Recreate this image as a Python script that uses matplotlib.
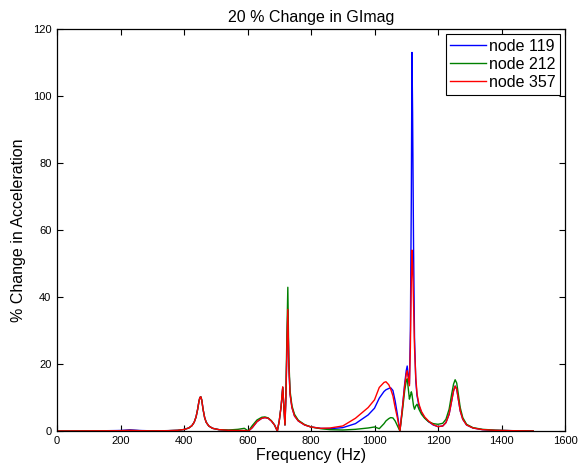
import matplotlib
matplotlib.use('Agg')
import matplotlib.pyplot as plt

# frequency grid (Hz) shared by the three nodes
freq = [0, 50, 100, 150, 200, 215, 230, 245, 260, 300,
        350, 380, 400, 415, 425, 432, 438, 443, 447, 450,
        453, 456, 460, 465, 470, 478, 490, 510, 540, 570,
        590, 603, 615, 630, 645, 655, 665, 675, 685, 694,
        700, 706, 711, 715, 718, 721, 724, 727, 730, 734,
        740, 748, 760, 780, 800, 830, 860, 900, 940, 980,
        1000, 1015, 1030, 1036, 1045, 1051, 1058, 1065, 1072, 1080,
        1088, 1095, 1100, 1103, 1106, 1110, 1113, 1116, 1118, 1120,
        1123, 1126, 1130, 1134, 1140, 1148, 1158, 1170, 1185, 1200,
        1215, 1225, 1235, 1243, 1249, 1254, 1259, 1264, 1270, 1278,
        1290, 1310, 1340, 1380, 1430, 1500]

node_119 = [0, 0.02, 0.05, 0.08, 0.15, 0.25, 0.35, 0.25, 0.15, 0.05,
            0.1, 0.2, 0.45, 0.9, 1.6, 2.6, 4.2, 6.5, 8.8, 10.0,
            10.2, 9.2, 6.5, 4.0, 2.6, 1.5, 0.8, 0.4, 0.2, 0.15,
            0.1, 0.0, 1.0, 2.8, 3.8, 4.0, 3.8, 3.0, 1.8, 0.0,
            3.0, 7.5, 13.0, 6.5, 1.8, 10, 24, 36, 20, 11,
            7, 4.5, 3.0, 1.8, 1.2, 0.8, 0.7, 1.0, 2.2, 4.8,
            6.8, 9.8, 11.8, 12.3, 12.7, 12.9, 12.1, 9.0, 5.0, 0.0,
            7, 14, 18, 19.4, 17, 14, 30, 70, 113, 95,
            55, 28, 15, 10.5, 7.5, 5.5, 4.0, 2.8, 1.8, 1.3,
            1.5, 2.5, 5.0, 9.0, 12.0, 13.4, 12.5, 9.5, 6.0, 3.5,
            1.8, 0.9, 0.4, 0.2, 0.1, 0.0]

node_212 = [0, 0.02, 0.04, 0.06, 0.1, 0.12, 0.15, 0.12, 0.1, 0.05,
            0.1, 0.2, 0.45, 0.9, 1.6, 2.6, 4.2, 6.5, 8.8, 10.0,
            10.2, 9.2, 6.5, 4.0, 2.6, 1.5, 0.8, 0.4, 0.3, 0.5,
            0.8, 0.0, 1.6, 3.3, 4.1, 4.2, 3.9, 3.1, 1.8, 0.0,
            3.0, 7.5, 13.0, 6.5, 1.8, 12, 28, 42.9, 22, 12,
            7.5, 5, 3.2, 1.9, 1.2, 0.7, 0.4, 0.3, 0.5, 0.9,
            1.2, 0.7, 2.2, 3.0, 3.7, 4.0, 3.9, 3.0, 1.6, 0.0,
            6, 12, 15, 15.6, 13, 9.5, 10.5, 11.7, 11.0, 9.5,
            7.5, 6.5, 7.5, 8.0, 6.5, 5.0, 3.8, 2.8, 2.2, 2.0,
            2.3, 3.5, 6.5, 11.0, 14.0, 15.3, 14.3, 11.0, 7.0, 4.0,
            2.0, 1.0, 0.5, 0.25, 0.1, 0.0]

node_357 = [0, 0.02, 0.04, 0.06, 0.1, 0.15, 0.2, 0.15, 0.1, 0.05,
            0.1, 0.2, 0.45, 0.9, 1.6, 2.6, 4.2, 6.5, 8.8, 10.0,
            10.2, 9.2, 6.5, 4.0, 2.6, 1.5, 0.8, 0.4, 0.2, 0.15,
            0.15, 0.0, 1.0, 2.8, 3.8, 4.0, 3.8, 3.0, 1.8, 0.0,
            3.0, 7.5, 13.2, 6.5, 1.8, 10, 24, 36.3, 20, 11,
            7, 4.5, 3.0, 1.8, 1.2, 0.8, 0.9, 1.5, 3.8, 7.0,
            9.3, 13.0, 14.5, 14.7, 13.8, 12.5, 10.5, 7.0, 4.0, 0.0,
            7, 13.5, 17, 18, 16, 13.5, 25, 45, 54, 50,
            38, 25, 16, 11, 8, 5.8, 4.2, 3.0, 1.9, 1.3,
            1.5, 2.5, 5.0, 9.0, 12.0, 13.4, 12.5, 9.5, 6.0, 3.5,
            1.8, 0.9, 0.4, 0.2, 0.1, 0.0]

labels = ['node 119', 'node 212', 'node 357']
colors = ['#0000ff', '#008000', '#ff0000']

plt.rcParams['font.family'] = ['Liberation Sans', 'DejaVu Sans']

fig = plt.figure(figsize=(5.85, 4.70), dpi=100)
ax = fig.add_axes([57/585, 1 - 431/470, 508/585, 402/470])

for vals, lab, col in zip([node_119, node_212, node_357], labels, colors):
    ax.plot(freq, vals, color=col, lw=1.0, label=lab)

ax.set_xlim(0, 1600)
ax.set_ylim(0, 120)
ax.set_xticks(range(0, 1601, 200))
ax.set_yticks(range(0, 121, 20))
ax.tick_params(direction='in', top=True, right=True, length=4, width=0.8,
               labelsize=8, color='black')
ax.tick_params(axis='x', pad=3.5)
ax.tick_params(axis='y', pad=4)
for s in ax.spines.values():
    s.set_linewidth(0.9)

ax.set_title('20 % Change in GImag', fontsize=11.5, pad=5)
ax.set_xlabel('Frequency (Hz)', fontsize=11.5, labelpad=1.5)
ax.set_ylabel('% Change in Acceleration', fontsize=11.5, labelpad=5)

leg = ax.legend(loc='upper right', fontsize=11.5, fancybox=False, framealpha=1,
                edgecolor='black', handlelength=2.2, borderaxespad=0.3,
                labelspacing=0.2, borderpad=0.3, handletextpad=0.2)
leg.get_frame().set_linewidth(0.8)

fig.savefig('out.png', dpi=100, facecolor='white')
